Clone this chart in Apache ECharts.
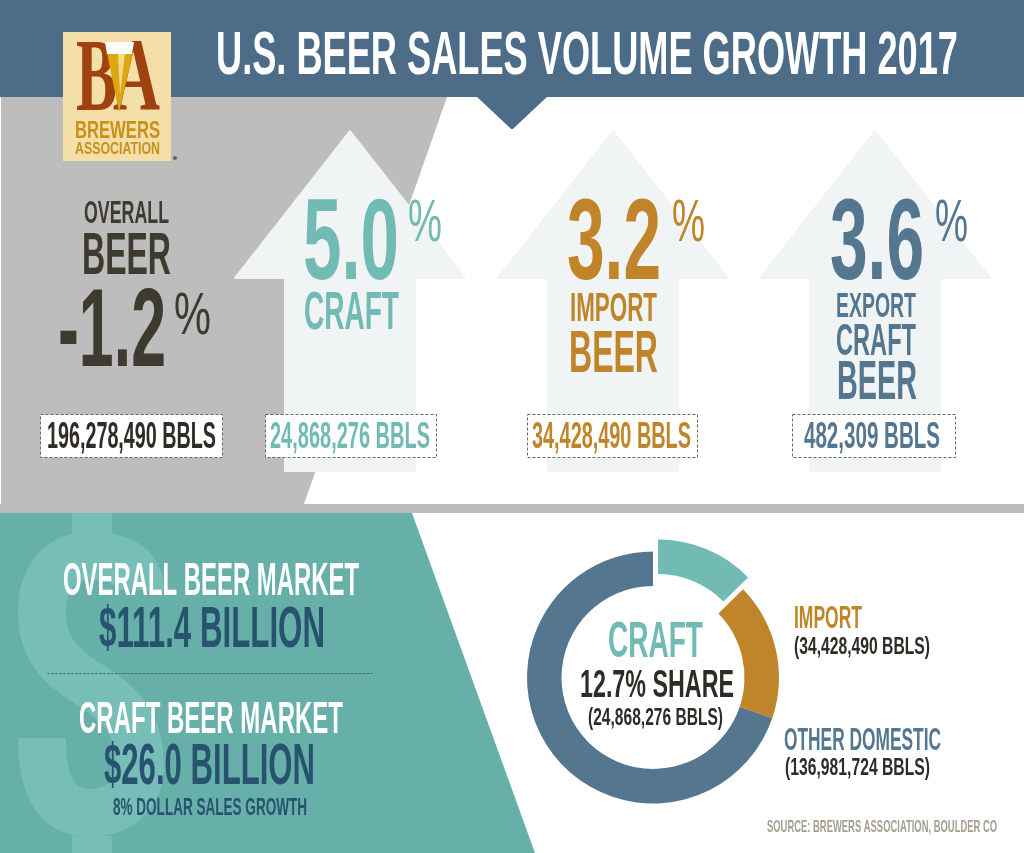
<!DOCTYPE html>
<html>
<head>
<meta charset="utf-8">
<title>U.S. Beer Sales Volume Growth 2017</title>
<style>
  html, body { margin: 0; padding: 0; background: #fff; }
  #chart { width: 1024px; height: 853px; }
</style>
<script src="https://cdn.jsdelivr.net/npm/echarts@6/dist/echarts.min.js"></script>
</head>
<body>
<div id="chart"></div>
<script>
// data
var chartTitle = 'U.S. BEER SALES VOLUME GROWTH 2017';
var shareNames = ['CRAFT', 'IMPORT', 'OTHER DOMESTIC'];
var shareValues = [24868276, 34428490, 136981724];
var shareText = '12.7% SHARE';
var growthValues = ['-1.2', '5.0', '3.2', '3.6'];
var volumeLabels = ['196,278,490 BBLS', '24,868,276 BBLS', '34,428,490 BBLS', '482,309 BBLS'];
var marketNames = ['OVERALL BEER MARKET', 'CRAFT BEER MARKET'];
var marketValues = ['$111.4 BILLION', '$26.0 BILLION'];
var marketNote = '8% DOLLAR SALES GROWTH';
var sourceText = 'SOURCE: BREWERS ASSOCIATION, BOULDER CO';

var BLUE = '#4C6C87', TEAL = '#66B0A9', TEAL_TEXT = '#72BBB5', GOLD = '#C0852A', SLATE = '#54778F';
var DARK = '#3E3A2F', NAVY = '#28536F', GREY = '#BDBDBD', ARROW = '#F1F4F5', DOLLAR = '#78BEB8';

var FONT = '"Liberation Sans Narrow", "Liberation Sans", sans-serif';
var measure = document.createElement('canvas').getContext('2d');

// text squeezed to fit x0..x1, caps sitting between top and bottom
function fit(str, x0, x1, top, bottom, fill, opts) {
  opts = opts || {};
  var size = (bottom - top) / 0.69;
  var font = (opts.weight || 'bold') + ' ' + size + 'px ' + (opts.family || FONT);
  measure.font = font;
  return {
    type: 'text',
    silent: true,
    x: x0,
    y: (top + bottom) / 2 + size * 0.06,
    scaleX: (x1 - x0) / measure.measureText(str).width,
    style: { text: str, x: 0, y: 0, font: font, fill: fill, align: 'left', verticalAlign: 'middle' }
  };
}

function poly(points, fill, round) {
  var el = { type: 'polygon', silent: true, shape: { points: points }, style: { fill: fill } };
  if (round) {
    el.style.stroke = fill;
    el.style.lineWidth = round;
    el.style.lineJoin = 'round';
  }
  return el;
}

function rect(x, y, w, h, fill) {
  return { type: 'rect', silent: true, shape: { x: x, y: y, width: w, height: h }, style: { fill: fill } };
}

function box(x, y, w, h) {
  return {
    type: 'rect', silent: true,
    shape: { x: x + 0.5, y: y + 0.5, width: w, height: h },
    style: { fill: '#fff', stroke: '#666', lineWidth: 1, lineDash: [3, 2] }
  };
}

function arrow(c) {
  return poly([[c, 131], [c + 115, 278], [c + 65, 278], [c + 65, 471], [c - 65, 471], [c - 65, 278], [c - 115, 278]], ARROW, 2);
}

function curve(x1, y1, cx1, cy1, cx2, cy2, x2, y2) {
  return {
    type: 'bezierCurve', silent: true,
    shape: { x1: x1, y1: y1, cpx1: cx1, cpy1: cy1, cpx2: cx2, cpy2: cy2, x2: x2, y2: y2 },
    style: { fill: null, stroke: DOLLAR, lineWidth: 48 }
  };
}

var g = [];
// background
g.push(rect(0, 0, 1024, 853, '#fff'));
g.push(poly([[1, 97], [447, 97], [304, 504], [1, 504]], GREY));
g.push(poly([[0, 513], [412, 513], [535, 853], [0, 853]], TEAL));
// big dollar sign behind the market text
g.push(curve(140, 590, 140, 565, 118, 556, 90, 556));
g.push(curve(90, 556, 62, 556, 42, 575, 42, 612));
g.push(curve(42, 612, 42, 650, 62, 668, 90, 685));
g.push(curve(90, 685, 118, 702, 140, 722, 140, 765));
g.push(curve(140, 765, 140, 795, 118, 813, 90, 813));
g.push(curve(90, 813, 62, 813, 42, 795, 42, 738));
g.push(rect(72, 513, 40, 20, DOLLAR), rect(72, 836, 40, 17, DOLLAR));
g.push(rect(0, 504, 1024, 9, GREY));
g.push(rect(0, 0, 1024, 97, BLUE));
g.push(poly([[479, 96], [545, 96], [512, 127]], BLUE, 4));

// logo
g.push(rect(63, 32, 108, 129, '#F5DFA8'));
g.push(fit('B', 76, 117, 41, 113, '#A0420F', { family: '"Liberation Serif", serif' }));
g.push(fit('A', 113, 160, 41, 113, '#A0420F', { family: '"Liberation Serif", serif' }));
g.push(poly([[107, 53], [133, 53], [119, 112]], '#DDA70F'));
g.push(poly([[118, 53], [125, 53], [120, 95]], '#F3DA8A'));
g.push(poly([[105, 42], [134, 42], [132, 54], [107, 54]], '#fff'));
g.push(fit('BREWERS', 75, 160, 121, 138, '#C8901C'));
g.push(fit('ASSOCIATION', 75, 160, 142, 154, '#C8901C'));
g.push({ type: 'circle', silent: true, shape: { cx: 175, cy: 158, r: 2 }, style: { fill: '#666' } });

// title
g.push(fit(chartTitle, 216, 958, 33, 75, '#fff'));

// arrows
g.push(arrow(350), arrow(613), arrow(875));

// overall
g.push(fit('OVERALL', 84, 169, 201, 223, DARK));
g.push(fit('BEER', 82, 171, 234, 275, DARK));
g.push(fit(growthValues[0], 58, 166, 290, 367, DARK));
g.push(fit('%', 174, 211, 294, 335, DARK, { weight: 'normal' }));

// craft
g.push(fit(growthValues[1], 303, 399, 201, 280, TEAL_TEXT));
g.push(fit('%', 408, 442, 201, 242, TEAL_TEXT, { weight: 'normal' }));
g.push(fit(shareNames[0], 304, 399, 293, 330, TEAL_TEXT));

// import
g.push(fit(growthValues[2], 567, 661, 201, 280, GOLD));
g.push(fit('%', 672, 705, 201, 242, GOLD, { weight: 'normal' }));
g.push(fit('IMPORT', 570, 657, 293, 321, GOLD));
g.push(fit('BEER', 569, 658, 332, 373, GOLD));

// export
g.push(fit(growthValues[3], 830, 924, 201, 280, SLATE));
g.push(fit('%', 935, 968, 201, 242, SLATE, { weight: 'normal' }));
g.push(fit('EXPORT', 836, 916, 293, 317, SLATE));
g.push(fit(shareNames[0], 836, 916, 325, 355, SLATE));
g.push(fit('BEER', 837, 917, 362, 400, SLATE));

// volume boxes
g.push(box(40, 414, 182, 43), fit(volumeLabels[0], 47, 216, 423, 448, '#2F2B26'));
g.push(box(265, 414, 171, 43), fit(volumeLabels[1], 270, 430, 423, 448, TEAL_TEXT));
g.push(box(527, 414, 170, 43), fit(volumeLabels[2], 532, 691, 423, 448, GOLD));
g.push(box(792, 414, 163, 43), fit(volumeLabels[3], 804, 940, 423, 448, SLATE));

// market
g.push(fit(marketNames[0], 63, 359, 563, 595, '#fff'));
g.push(fit(marketValues[0], 99, 325, 608, 648, NAVY));
g.push({ type: 'line', silent: true, shape: { x1: 47, y1: 673.5, x2: 373, y2: 673.5 }, style: { stroke: '#4F6F6C', lineWidth: 1, lineDash: [3, 1] } });
g.push(fit(marketNames[1], 79, 343, 702, 733, '#fff'));
g.push(fit(marketValues[1], 104, 315, 746, 785, NAVY));
g.push(fit(marketNote, 113, 307, 799, 815, NAVY));

// donut labels
g.push(fit(shareNames[0], 608, 703, 622, 657, TEAL_TEXT));
g.push(fit(shareText, 580, 734, 670, 697, '#2F2B26'));
g.push(fit('(' + volumeLabels[1] + ')', 588, 723, 708, 725, '#2F2B26'));
g.push(fit(shareNames[1], 794, 862, 607, 628, GOLD));
g.push(fit('(' + volumeLabels[2] + ')', 794, 930, 637, 654, '#2F2B26'));
g.push(fit(shareNames[2], 784, 941, 728, 750, SLATE));
g.push(fit('(136,981,724 BBLS)', 785, 930, 759, 775, '#2F2B26'));
g.push(fit(sourceText, 767, 997, 820, 832, '#A5A08E'));

var shareColors = ['#72BBB5', '#C0852A', '#54778F'];
var pieData = shareNames.map(function (name, i) {
  return {
    name: name,
    value: shareValues[i],
    selected: i === 0,
    itemStyle: { color: shareColors[i] },
    select: { itemStyle: { color: shareColors[i] } }
  };
});

var chart = echarts.init(document.getElementById('chart'), null, { renderer: 'canvas' });
chart.setOption({
  animation: false,
  graphic: { elements: g },
  series: [{
    type: 'pie',
    center: [653, 677.5],
    radius: [91.5, 126],
    startAngle: 90,
    clockwise: true,
    silent: true,
    selectedMode: 'single',
    selectedOffset: 13,
    label: { show: false },
    labelLine: { show: false },
    data: pieData
  }]
});
</script>
</body>
</html>
